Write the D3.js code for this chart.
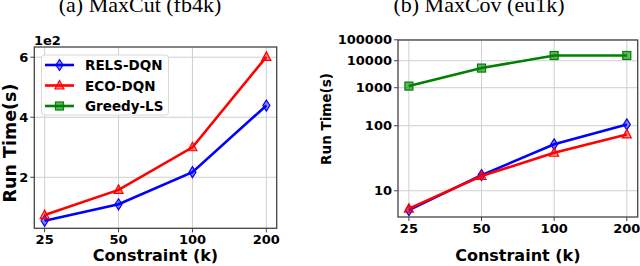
<!DOCTYPE html>
<html lang="en">
<head>
<meta charset="UTF-8">
<title>Run time vs constraint</title>
<script src="https://d3js.org/d3.v7.min.js"></script>
<style>
  body { margin: 0; background: #fff; }
  svg text { font-family: "DejaVu Sans", sans-serif; font-weight: bold; fill: #000; }
  .title { font-family: "Liberation Serif", "DejaVu Serif", serif; font-weight: normal; }
</style>
</head>
<body>
<div id="chart"></div>
<script>
// data
const constraints = ["25", "50", "100", "200"];
const seriesNames = ["RELS-DQN", "ECO-DQN", "Greedy-LS"];

// (a) MaxCut (fb4k), seconds
const cutRels = [55, 110, 217, 439];
const cutEco = [74, 158, 300, 601];
const cutTicks = [200, 400, 600];

// (b) MaxCov (eu1k), seconds
const covRels = [6.5, 15.2, 43.7, 107];
const covEco = [6.7, 14.8, 31.6, 66.7];
const covGreedy = [1130, 5000, 17000, 17000];
const covTicks = [10, 100, 1000, 10000, 100000];

const colors = { "RELS-DQN": "#0000ff", "ECO-DQN": "#ff0000", "Greedy-LS": "#008000" };

const svg = d3.select("#chart").append("svg")
    .attr("width", 640)
    .attr("height", 266);

// marker shapes
function marker(g, name, cx, cy) {
    const c = colors[name];
    if (name === "RELS-DQN") {
        g.append("path")
            .attr("d", `M${cx},${cy - 5.5}L${cx + 3.5},${cy}L${cx},${cy + 5.5}L${cx - 3.5},${cy}Z`)
            .attr("fill", c).attr("fill-opacity", 0.45)
            .attr("stroke", c).attr("stroke-width", 1.2);
    } else if (name === "ECO-DQN") {
        g.append("path")
            .attr("d", `M${cx},${cy - 5}L${cx + 4.5},${cy + 3.5}L${cx - 4.5},${cy + 3.5}Z`)
            .attr("fill", c).attr("fill-opacity", 0.45)
            .attr("stroke", c).attr("stroke-width", 1.2);
    } else {
        g.append("rect")
            .attr("x", cx - 4).attr("y", cy - 4).attr("width", 8).attr("height", 8)
            .attr("fill", c).attr("fill-opacity", 0.6)
            .attr("stroke", c).attr("stroke-width", 1.2);
    }
}

function drawPanel(p) {
    const g = svg.append("g");
    const x = d3.scalePoint().domain(constraints).range([p.left, p.right]).padding(p.pad);

    // grid
    g.append("g").selectAll("line").data(constraints).enter().append("line")
        .attr("x1", d => x(d)).attr("x2", d => x(d))
        .attr("y1", p.top).attr("y2", p.bottom)
        .attr("stroke", "#cfcfcf").attr("stroke-width", 1);
    g.append("g").selectAll("line").data(p.ticks).enter().append("line")
        .attr("x1", p.left).attr("x2", p.right)
        .attr("y1", d => p.y(d)).attr("y2", d => p.y(d))
        .attr("stroke", "#cfcfcf").attr("stroke-width", 1);

    // series
    const line = d3.line().x((d, i) => x(constraints[i])).y(d => p.y(d));
    p.series.forEach(s => {
        g.append("path")
            .datum(s.values)
            .attr("fill", "none")
            .attr("stroke", colors[s.name])
            .attr("stroke-width", 2.6)
            .attr("d", line);
        s.values.forEach((v, i) => marker(g, s.name, x(constraints[i]), p.y(v)));
    });

    // spines
    g.append("rect")
        .attr("x", p.left).attr("y", p.top)
        .attr("width", p.right - p.left).attr("height", p.bottom - p.top)
        .attr("fill", "none").attr("stroke", "#444").attr("stroke-width", 1.3);

    // x ticks
    constraints.forEach(c => {
        g.append("line").attr("x1", x(c)).attr("x2", x(c))
            .attr("y1", p.bottom).attr("y2", p.bottom + 4)
            .attr("stroke", "#444").attr("stroke-width", 1);
        g.append("text").attr("x", x(c)).attr("y", p.bottom + 16)
            .attr("text-anchor", "middle").style("font-size", "13px").text(c);
    });
    // y ticks
    p.ticks.forEach(t => {
        g.append("line").attr("x1", p.left - 4).attr("x2", p.left)
            .attr("y1", p.y(t)).attr("y2", p.y(t))
            .attr("stroke", "#444").attr("stroke-width", 1);
        g.append("text").attr("x", p.left - 6).attr("y", p.y(t) + 4.5)
            .attr("text-anchor", "end").style("font-size", "13px").text(p.tickFormat(t));
    });

    // labels
    g.append("text").attr("x", (p.left + p.right) / 2).attr("y", 261)
        .attr("text-anchor", "middle").style("font-size", "16px").text("Constraint (k)");
    g.append("text")
        .attr("transform", `translate(${p.ylabX},${p.ylabY}) rotate(-90)`)
        .attr("text-anchor", "middle").style("font-size", p.ylabSize).text("Run Time(s)");
    g.append("text").attr("class", "title")
        .attr("x", p.titleX).attr("y", 12)
        .attr("text-anchor", "middle").style("font-size", "22px").text(p.title);
    return g;
}

// left panel: linear, shown in units of 1e2
const yCut = d3.scaleLinear().domain([30, 634]).range([228.3, 47]);
const left = drawPanel({
    left: 34.3, right: 276.7, top: 47, bottom: 228.3, pad: 0.14,
    y: yCut,
    ticks: cutTicks,
    tickFormat: t => String(t / 100),
    series: [
        { name: "RELS-DQN", values: cutRels },
        { name: "ECO-DQN", values: cutEco }
    ],
    ylabX: 16, ylabY: 143, ylabSize: "17.5px",
    titleX: 140, title: "(a) MaxCut (fb4k)"
});
left.append("text").attr("x", 34).attr("y", 45).style("font-size", "13px").text("1e2");

// legend
const leg = left.append("g");
leg.append("rect").attr("x", 41.5).attr("y", 55).attr("width", 127).attr("height", 60)
    .attr("rx", 3).attr("fill", "#fff").attr("fill-opacity", 0.85)
    .attr("stroke", "#d8d8d8").attr("stroke-width", 1);
seriesNames.forEach((n, i) => {
    const ly = 65 + i * 20.5;
    leg.append("line").attr("x1", 45).attr("x2", 74).attr("y1", ly).attr("y2", ly)
        .attr("stroke", colors[n]).attr("stroke-width", 2.6);
    marker(leg, n, 59.5, ly);
    leg.append("text").attr("x", 85).attr("y", ly + 5)
        .style("font-size", "13.5px").text(n);
});

// right panel: log axis over log10 of run time
const yCovL = d3.scaleLog().domain([0.756, 4.99]).range([217, 40]);
drawPanel({
    left: 398, right: 637.7, top: 40, bottom: 217, pad: 0.15,
    y: v => yCovL(Math.log10(v)),
    ticks: covTicks,
    tickFormat: t => String(t),
    series: [
        { name: "Greedy-LS", values: covGreedy },
        { name: "RELS-DQN", values: covRels },
        { name: "ECO-DQN", values: covEco }
    ],
    ylabX: 331, ylabY: 119, ylabSize: "13.5px",
    titleX: 479, title: "(b) MaxCov (eu1k)"
});
</script>
</body>
</html>
